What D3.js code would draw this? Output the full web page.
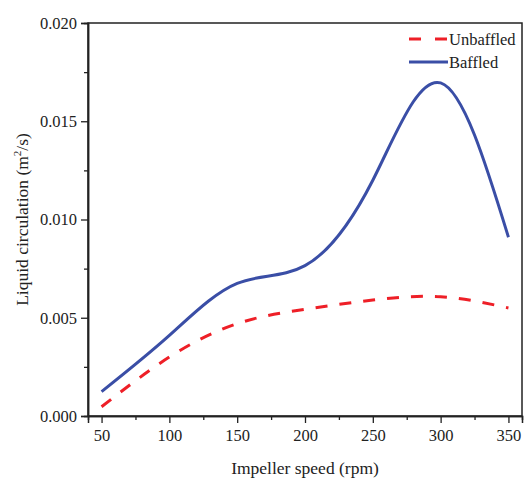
<!DOCTYPE html>
<html>
<head>
<meta charset="utf-8">
<script src="https://cdn.jsdelivr.net/npm/d3@7"></script>
<style>
  body { margin: 0; background: #fff; }
</style>
</head>
<body>
<div class="chart"></div>
<script>
const speeds = [50, 100, 150, 200, 250, 300, 350];
const unbaffled = [0.00047, 0.0030, 0.0047, 0.00543, 0.0059, 0.00607, 0.0055];
const baffled = [0.00124, 0.0041, 0.00675, 0.00765, 0.0120, 0.01695, 0.0091];
const xTicks = [50, 100, 150, 200, 250, 300, 350];
const yTicks = [0.000, 0.005, 0.010, 0.015, 0.020];
const seriesNames = ["Unbaffled", "Baffled"];

const serif = "'Liberation Serif', Tinos, 'Times New Roman', 'Nimbus Roman', 'DejaVu Serif', serif";
const width = 524;
const height = 480;
const margin = { left: 88, top: 23, right: 2, bottom: 64 };

const svg = d3
  .select(".chart")
  .append("svg")
  .attr("width", width)
  .attr("height", height)
  .style("font-family", serif);

const x = d3
  .scaleLinear()
  .domain([40, 360])
  .range([margin.left, width - margin.right]);

const y = d3
  .scaleLinear()
  .domain([0, 0.02])
  .range([height - margin.bottom, margin.top]);

// frame
svg
  .append("rect")
  .attr("x", x(40))
  .attr("y", y(0.02))
  .attr("width", x(360) - x(40))
  .attr("height", y(0) - y(0.02))
  .attr("fill", "none")
  .attr("stroke", "#222")
  .attr("stroke-width", 1.5);

// minor ticks
const xMinor = d3.axisBottom(x).tickValues(d3.range(75, 351, 50)).tickSize(4).tickFormat("");
svg.append("g").attr("transform", `translate(0,${y(0)})`).call(xMinor);
const yMinor = d3.axisLeft(y).tickValues([0.0025, 0.0075, 0.0125, 0.0175]).tickSize(4).tickFormat("");
svg.append("g").attr("transform", `translate(${x(40)},0)`).call(yMinor);

const xAxis = d3.axisBottom(x).tickValues(xTicks).tickSize(7).tickPadding(6);
svg
  .append("g")
  .attr("transform", `translate(0,${y(0)})`)
  .call(xAxis);

const yAxis = d3.axisLeft(y).tickValues(yTicks).tickSize(7).tickPadding(4).tickFormat(d3.format(".3f"));
svg
  .append("g")
  .attr("transform", `translate(${x(40)},0)`)
  .call(yAxis);

svg.selectAll(".domain").attr("stroke", "#222").attr("stroke-width", 1.5);
svg.selectAll(".tick line").attr("stroke", "#222").attr("stroke-width", 1.3);
svg
  .selectAll(".tick text")
  .style("font-family", serif)
  .attr("font-size", 16.5)
  .attr("fill", "#222");

// lines, smoothed like the original spline fit
const line = d3
  .line()
  .x((d, i) => x(speeds[i]))
  .y(d => y(d))
  .curve(d3.curveNatural);

svg
  .append("path")
  .datum(baffled)
  .attr("d", line)
  .attr("fill", "none")
  .attr("stroke", "#3a4ea6")
  .attr("stroke-width", 3);

svg
  .append("path")
  .datum(unbaffled)
  .attr("d", line)
  .attr("fill", "none")
  .attr("stroke", "#ee1f27")
  .attr("stroke-width", 3)
  .attr("stroke-dasharray", "12,12");

// axis titles
svg
  .append("text")
  .attr("x", (x(40) + x(360)) / 2)
  .attr("y", 474)
  .attr("text-anchor", "middle")
  .attr("font-size", 17.5)
  .attr("fill", "#222")
  .style("font-family", serif)
  .text("Impeller speed (rpm)");

const yTitle = svg
  .append("text")
  .attr("transform", `translate(28,${(y(0) + y(0.02)) / 2}) rotate(-90)`)
  .attr("text-anchor", "middle")
  .attr("font-size", 17.5)
  .attr("fill", "#222")
  .style("font-family", serif);
yTitle.append("tspan").text("Liquid circulation (m");
yTitle.append("tspan").attr("font-size", 11).attr("dy", -7).text("2");
yTitle.append("tspan").attr("dy", 7).text("/s)");

// legend
const legend = svg.append("g");
const legendColors = ["#ee1f27", "#3a4ea6"];
const legendDash = ["12,14", null];
seriesNames.forEach((name, i) => {
  const ly = 39 + i * 23;
  legend
    .append("line")
    .attr("x1", 409)
    .attr("x2", 448)
    .attr("y1", ly)
    .attr("y2", ly)
    .attr("stroke", legendColors[i])
    .attr("stroke-width", 3)
    .attr("stroke-dasharray", legendDash[i]);
  legend
    .append("text")
    .attr("x", 449)
    .attr("y", ly + 6)
    .attr("font-size", 16.5)
    .attr("fill", "#222")
    .style("font-family", serif)
    .text(name);
});
</script>
</body>
</html>
